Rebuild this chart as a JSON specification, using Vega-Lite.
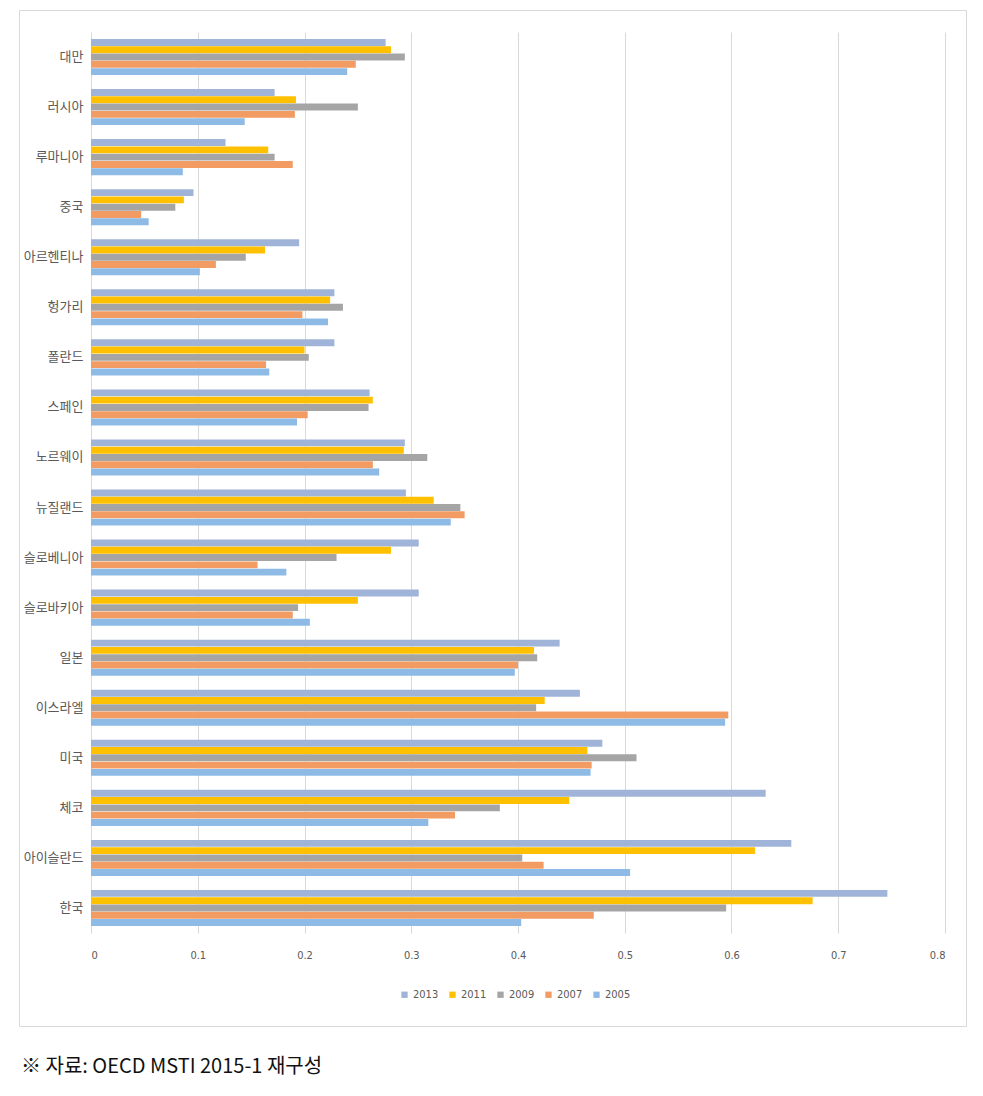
{
  "$schema": "https://vega.github.io/schema/vega-lite/v6.json",
  "autosize": "none",
  "width": 947,
  "height": 1016,
  "padding": {"left": 19, "top": 10, "right": 17, "bottom": 70},
  "background": "#ffffff",
  "title": {
    "text": "※ 자료: OECD MSTI 2015-1 재구성",
    "orient": "bottom",
    "anchor": "start",
    "frame": "group",
    "offset": 31,
    "dx": 2,
    "font": "Noto Sans CJK KR",
    "fontSize": 20,
    "fontWeight": "normal",
    "color": "#111111"
  },
  "data": {
    "values": [
      {"country": "대만", "year": "2013", "value": 0.276},
      {"country": "대만", "year": "2011", "value": 0.281},
      {"country": "대만", "year": "2009", "value": 0.294},
      {"country": "대만", "year": "2007", "value": 0.248},
      {"country": "대만", "year": "2005", "value": 0.240},
      {"country": "러시아", "year": "2013", "value": 0.172},
      {"country": "러시아", "year": "2011", "value": 0.192},
      {"country": "러시아", "year": "2009", "value": 0.250},
      {"country": "러시아", "year": "2007", "value": 0.191},
      {"country": "러시아", "year": "2005", "value": 0.144},
      {"country": "루마니아", "year": "2013", "value": 0.126},
      {"country": "루마니아", "year": "2011", "value": 0.166},
      {"country": "루마니아", "year": "2009", "value": 0.172},
      {"country": "루마니아", "year": "2007", "value": 0.189},
      {"country": "루마니아", "year": "2005", "value": 0.086},
      {"country": "중국", "year": "2013", "value": 0.096},
      {"country": "중국", "year": "2011", "value": 0.087},
      {"country": "중국", "year": "2009", "value": 0.079},
      {"country": "중국", "year": "2007", "value": 0.047},
      {"country": "중국", "year": "2005", "value": 0.054},
      {"country": "아르헨티나", "year": "2013", "value": 0.195},
      {"country": "아르헨티나", "year": "2011", "value": 0.163},
      {"country": "아르헨티나", "year": "2009", "value": 0.145},
      {"country": "아르헨티나", "year": "2007", "value": 0.117},
      {"country": "아르헨티나", "year": "2005", "value": 0.102},
      {"country": "헝가리", "year": "2013", "value": 0.228},
      {"country": "헝가리", "year": "2011", "value": 0.224},
      {"country": "헝가리", "year": "2009", "value": 0.236},
      {"country": "헝가리", "year": "2007", "value": 0.198},
      {"country": "헝가리", "year": "2005", "value": 0.222},
      {"country": "폴란드", "year": "2013", "value": 0.228},
      {"country": "폴란드", "year": "2011", "value": 0.200},
      {"country": "폴란드", "year": "2009", "value": 0.204},
      {"country": "폴란드", "year": "2007", "value": 0.164},
      {"country": "폴란드", "year": "2005", "value": 0.167},
      {"country": "스페인", "year": "2013", "value": 0.261},
      {"country": "스페인", "year": "2011", "value": 0.264},
      {"country": "스페인", "year": "2009", "value": 0.260},
      {"country": "스페인", "year": "2007", "value": 0.203},
      {"country": "스페인", "year": "2005", "value": 0.193},
      {"country": "노르웨이", "year": "2013", "value": 0.294},
      {"country": "노르웨이", "year": "2011", "value": 0.293},
      {"country": "노르웨이", "year": "2009", "value": 0.315},
      {"country": "노르웨이", "year": "2007", "value": 0.264},
      {"country": "노르웨이", "year": "2005", "value": 0.270},
      {"country": "뉴질랜드", "year": "2013", "value": 0.295},
      {"country": "뉴질랜드", "year": "2011", "value": 0.321},
      {"country": "뉴질랜드", "year": "2009", "value": 0.346},
      {"country": "뉴질랜드", "year": "2007", "value": 0.350},
      {"country": "뉴질랜드", "year": "2005", "value": 0.337},
      {"country": "슬로베니아", "year": "2013", "value": 0.307},
      {"country": "슬로베니아", "year": "2011", "value": 0.281},
      {"country": "슬로베니아", "year": "2009", "value": 0.230},
      {"country": "슬로베니아", "year": "2007", "value": 0.156},
      {"country": "슬로베니아", "year": "2005", "value": 0.183},
      {"country": "슬로바키아", "year": "2013", "value": 0.307},
      {"country": "슬로바키아", "year": "2011", "value": 0.250},
      {"country": "슬로바키아", "year": "2009", "value": 0.194},
      {"country": "슬로바키아", "year": "2007", "value": 0.189},
      {"country": "슬로바키아", "year": "2005", "value": 0.205},
      {"country": "일본", "year": "2013", "value": 0.439},
      {"country": "일본", "year": "2011", "value": 0.415},
      {"country": "일본", "year": "2009", "value": 0.418},
      {"country": "일본", "year": "2007", "value": 0.400},
      {"country": "일본", "year": "2005", "value": 0.397},
      {"country": "이스라엘", "year": "2013", "value": 0.458},
      {"country": "이스라엘", "year": "2011", "value": 0.425},
      {"country": "이스라엘", "year": "2009", "value": 0.417},
      {"country": "이스라엘", "year": "2007", "value": 0.597},
      {"country": "이스라엘", "year": "2005", "value": 0.594},
      {"country": "미국", "year": "2013", "value": 0.479},
      {"country": "미국", "year": "2011", "value": 0.465},
      {"country": "미국", "year": "2009", "value": 0.511},
      {"country": "미국", "year": "2007", "value": 0.469},
      {"country": "미국", "year": "2005", "value": 0.468},
      {"country": "체코", "year": "2013", "value": 0.632},
      {"country": "체코", "year": "2011", "value": 0.448},
      {"country": "체코", "year": "2009", "value": 0.383},
      {"country": "체코", "year": "2007", "value": 0.341},
      {"country": "체코", "year": "2005", "value": 0.316},
      {"country": "아이슬란드", "year": "2013", "value": 0.656},
      {"country": "아이슬란드", "year": "2011", "value": 0.622},
      {"country": "아이슬란드", "year": "2009", "value": 0.404},
      {"country": "아이슬란드", "year": "2007", "value": 0.424},
      {"country": "아이슬란드", "year": "2005", "value": 0.505},
      {"country": "한국", "year": "2013", "value": 0.746},
      {"country": "한국", "year": "2011", "value": 0.676},
      {"country": "한국", "year": "2009", "value": 0.595},
      {"country": "한국", "year": "2007", "value": 0.471},
      {"country": "한국", "year": "2005", "value": 0.403}
    ]
  },
  "mark": {"type": "bar", "orient": "horizontal"},
  "encoding": {
    "y": {
      "field": "country",
      "type": "nominal",
      "sort": ["대만", "러시아", "루마니아", "중국", "아르헨티나", "헝가리", "폴란드", "스페인", "노르웨이", "뉴질랜드", "슬로베니아", "슬로바키아", "일본", "이스라엘", "미국", "체코", "아이슬란드", "한국"],
      "scale": {"range": [22, 923], "paddingInner": 0.28, "paddingOuter": 0.14},
      "axis": {
        "title": null,
        "orient": "left",
        "offset": -72,
        "domain": false,
        "ticks": false,
        "grid": false,
        "labelPadding": 8,
        "labelFont": "Noto Sans CJK KR",
        "labelFontSize": 13,
        "labelColor": "#595959"
      }
    },
    "yOffset": {
      "field": "year",
      "type": "nominal",
      "sort": ["2013", "2011", "2009", "2007", "2005"],
      "scale": {"paddingInner": 0.05, "paddingOuter": 0}
    },
    "x": {
      "field": "value",
      "type": "quantitative",
      "scale": {"domain": [0, 0.8], "range": [72, 926], "nice": false, "zero": true},
      "axis": {
        "title": null,
        "orient": "bottom",
        "offset": -93,
        "values": [0, 0.1, 0.2, 0.3, 0.4, 0.5, 0.6, 0.7, 0.8],
        "format": ".1~f",
        "domain": false,
        "grid": false,
        "ticks": true,
        "tickSize": -901,
        "tickColor": "#d9d9d9",
        "tickWidth": 1,
        "labelPadding": 917,
        "labelFont": "DejaVu Sans Condensed",
        "labelFontSize": 11,
        "labelColor": "#595959"
      }
    },
    "color": {
      "field": "year",
      "type": "nominal",
      "sort": ["2013", "2011", "2009", "2007", "2005"],
      "scale": {
        "domain": ["2013", "2011", "2009", "2007", "2005"],
        "range": ["#9fb4d8", "#ffc000", "#a5a5a5", "#f29b62", "#8dbbe6"]
      },
      "legend": {
        "title": null,
        "orient": "none",
        "legendX": 380,
        "legendY": 979,
        "direction": "horizontal",
        "columns": 5,
        "padding": 0,
        "symbolType": "square",
        "symbolSize": 40,
        "symbolStrokeWidth": 0,
        "labelOffset": 3,
        "columnPadding": 8,
        "labelFont": "DejaVu Sans Condensed",
        "labelFontSize": 11,
        "labelColor": "#595959"
      }
    }
  },
  "config": {
    "view": {"stroke": "#d9d9d9", "strokeWidth": 1},
    "axis": {"labelFont": "Noto Sans CJK KR"}
  }
}
